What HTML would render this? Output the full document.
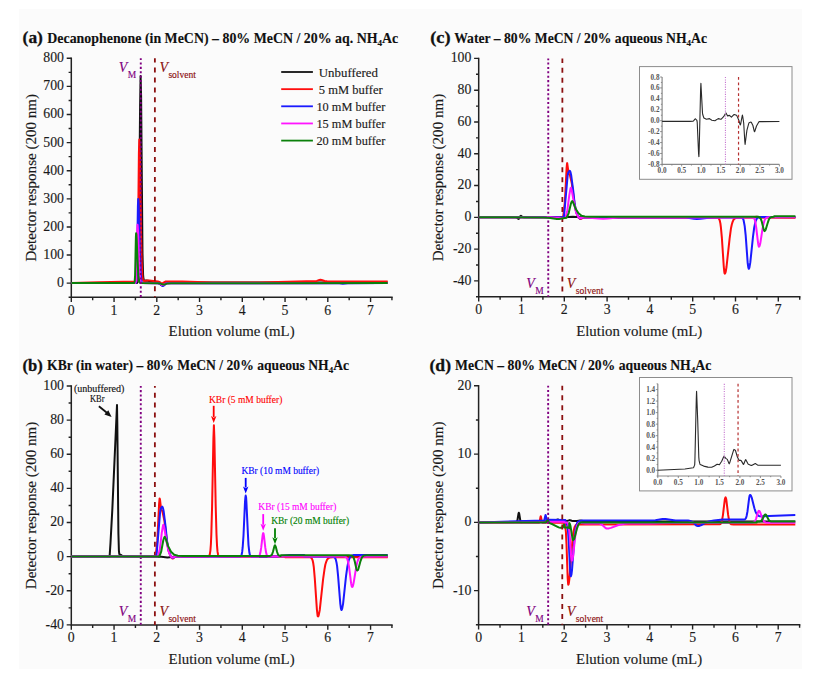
<!DOCTYPE html>
<html><head><meta charset="utf-8"><style>html,body{margin:0;padding:0;background:#fff;}svg{display:block;}</style></head>
<body>
<svg width="813" height="684" viewBox="0 0 813 684" font-family="Liberation Serif, serif" fill="#1a1a1a">
<rect width="813" height="684" fill="#ffffff"/>
<rect x="19" y="9" width="783" height="660" fill="#fbfbfb"/>
<text x="22.6" y="43.199999999999996" font-weight="bold" font-size="17" fill="#111" stroke="#111" stroke-width="0.3" textLength="20.3" lengthAdjust="spacingAndGlyphs">(a)</text>
<text x="47.3" y="42.8" font-weight="bold" font-size="13.7" fill="#111" stroke="#111" stroke-width="0.12" textLength="351" lengthAdjust="spacingAndGlyphs">Decanophenone (in MeCN) – 80% MeCN / 20% aq. NH<tspan font-size="9" dy="3">4</tspan><tspan dy="-3">Ac</tspan></text>
<path d="M71.3 58.3V297.2H391.93" fill="none" stroke="#222" stroke-width="1.5" stroke-linecap="square"/>
<text stroke="#1a1a1a" stroke-width="0.14" x="64" y="287.05" text-anchor="end" font-size="13.8">0</text>
<text stroke="#1a1a1a" stroke-width="0.14" x="64" y="258.94" text-anchor="end" font-size="13.8">100</text>
<text stroke="#1a1a1a" stroke-width="0.14" x="64" y="230.84" text-anchor="end" font-size="13.8">200</text>
<text stroke="#1a1a1a" stroke-width="0.14" x="64" y="202.73" text-anchor="end" font-size="13.8">300</text>
<text stroke="#1a1a1a" stroke-width="0.14" x="64" y="174.62" text-anchor="end" font-size="13.8">400</text>
<text stroke="#1a1a1a" stroke-width="0.14" x="64" y="146.52" text-anchor="end" font-size="13.8">500</text>
<text stroke="#1a1a1a" stroke-width="0.14" x="64" y="118.41" text-anchor="end" font-size="13.8">600</text>
<text stroke="#1a1a1a" stroke-width="0.14" x="64" y="90.31" text-anchor="end" font-size="13.8">700</text>
<text stroke="#1a1a1a" stroke-width="0.14" x="64" y="62.2" text-anchor="end" font-size="13.8">800</text>
<text stroke="#1a1a1a" stroke-width="0.14" x="71.3" y="314.7" text-anchor="middle" font-size="13.8">0</text>
<text stroke="#1a1a1a" stroke-width="0.14" x="114.05" y="314.7" text-anchor="middle" font-size="13.8">1</text>
<text stroke="#1a1a1a" stroke-width="0.14" x="156.8" y="314.7" text-anchor="middle" font-size="13.8">2</text>
<text stroke="#1a1a1a" stroke-width="0.14" x="199.55" y="314.7" text-anchor="middle" font-size="13.8">3</text>
<text stroke="#1a1a1a" stroke-width="0.14" x="242.3" y="314.7" text-anchor="middle" font-size="13.8">4</text>
<text stroke="#1a1a1a" stroke-width="0.14" x="285.05" y="314.7" text-anchor="middle" font-size="13.8">5</text>
<text stroke="#1a1a1a" stroke-width="0.14" x="327.8" y="314.7" text-anchor="middle" font-size="13.8">6</text>
<text stroke="#1a1a1a" stroke-width="0.14" x="370.55" y="314.7" text-anchor="middle" font-size="13.8">7</text>
<path d="M71.3 297.2h-2.7 M71.3 283.15h-4.6 M71.3 269.09h-2.7 M71.3 255.04h-4.6 M71.3 240.99h-2.7 M71.3 226.94h-4.6 M71.3 212.88h-2.7 M71.3 198.83h-4.6 M71.3 184.78h-2.7 M71.3 170.72h-4.6 M71.3 156.67h-2.7 M71.3 142.62h-4.6 M71.3 128.56h-2.7 M71.3 114.51h-4.6 M71.3 100.46h-2.7 M71.3 86.41h-4.6 M71.3 72.35h-2.7 M71.3 58.3h-4.6 M71.3 297.2v4.8 M92.67 297.2v3.0 M114.05 297.2v4.8 M135.43 297.2v3.0 M156.8 297.2v4.8 M178.18 297.2v3.0 M199.55 297.2v4.8 M220.93 297.2v3.0 M242.3 297.2v4.8 M263.68 297.2v3.0 M285.05 297.2v4.8 M306.43 297.2v3.0 M327.8 297.2v4.8 M349.18 297.2v3.0 M370.55 297.2v4.8 M391.93 297.2v3.0" stroke="#222" stroke-width="1.4" fill="none"/>
<text stroke="#1a1a1a" stroke-width="0.14" transform="translate(35.8,177.75) rotate(-90)" text-anchor="middle" font-size="14.5" textLength="167.5" lengthAdjust="spacingAndGlyphs">Detector response (200 nm)</text>
<text stroke="#1a1a1a" stroke-width="0.14" x="231.61" y="336.2" text-anchor="middle" font-size="14.5" textLength="126" lengthAdjust="spacingAndGlyphs">Elution volume (mL)</text>
<polyline points="71.3,283.1 136.2,283.1 137.1,282.9 137.6,282.2 138.0,279.3 138.3,273.0 138.8,249.8 140.1,105.1 140.6,75.9 141.1,96.0 142.5,253.7 143.1,275.0 143.5,279.0 143.7,280.2 144.1,280.8 146.2,280.6 148.0,280.8 154.1,282.4 158.3,283.1 159.5,283.6 161.6,285.2 162.4,285.4 163.2,285.1 165.4,283.6 165.4,283.0 166.5,282.7 168.3,282.6 387.7,282.6" fill="none" stroke="#111111" stroke-width="2.0" stroke-linejoin="round"/>
<polyline points="71.3,283.1 98.7,282.2 135.7,281.6 136.4,281.5 136.7,281.1 137.1,278.6 137.4,274.4 137.8,257.7 138.9,152.9 139.3,139.6 139.5,142.8 139.9,156.2 141.1,235.3 141.7,262.1 142.4,276.8 142.9,279.5 143.2,280.4 143.5,280.7 144.1,280.9 147.1,280.5 149.2,280.5 158.0,281.5 159.3,281.9 161.2,283.2 161.9,283.5 162.7,283.2 165.4,281.5 166.5,281.4 182.4,281.6 212.4,282.4 259.4,282.4 306.4,281.2 314.8,281.2 316.8,280.9 319.4,280.0 320.4,279.8 321.6,280.0 324.6,281.0 327.0,281.3 387.7,281.5" fill="none" stroke="#ff0d0d" stroke-width="2.0" stroke-linejoin="round"/>
<polyline points="71.3,283.1 134.8,283.1 135.9,282.9 136.2,282.0 136.5,280.0 136.9,270.2 137.9,206.5 138.2,198.9 138.5,201.4 138.8,210.1 140.0,254.3 140.6,270.9 141.3,280.3 141.8,282.3 142.5,283.0 158.3,283.2 159.8,283.8 161.9,285.6 162.8,286.0 163.6,285.6 166.1,283.6 167.1,283.3 168.8,283.2 336.9,283.1 339.4,283.2 342.8,283.7 347.8,283.2 387.7,283.1" fill="none" stroke="#1a1aff" stroke-width="2.0" stroke-linejoin="round"/>
<polyline points="71.3,283.1 134.3,283.1 135.3,283.0 135.6,282.4 135.9,280.8 136.2,275.2 137.1,232.4 137.5,224.7 137.7,226.1 138.1,232.0 139.2,263.6 139.8,275.2 140.6,281.5 141.0,282.6 141.7,283.1 158.3,283.2 159.8,283.6 161.9,284.9 162.8,285.1 163.6,284.9 166.1,283.4 168.8,283.2 387.7,283.1" fill="none" stroke="#ff14ff" stroke-width="2.0" stroke-linejoin="round"/>
<polyline points="71.3,283.1 133.5,283.1 134.3,283.0 134.7,281.4 135.1,275.2 135.9,237.3 136.1,233.2 136.4,234.7 136.7,239.8 137.8,266.0 138.4,275.9 139.2,281.5 139.7,282.6 140.5,283.1 158.2,283.2 159.9,283.4 162.5,284.4 163.6,284.6 164.7,284.4 167.8,283.4 171.0,283.2 387.7,283.1" fill="none" stroke="#0a800a" stroke-width="2.0" stroke-linejoin="round"/>
<line x1="140.77" y1="58.3" x2="140.77" y2="297.2" stroke="#800080" stroke-width="1.9" stroke-dasharray="2.1 2.29" stroke-dashoffset="0.3"/>
<line x1="154.88" y1="58.3" x2="154.88" y2="297.2" stroke="#8b1010" stroke-width="1.8" stroke-dasharray="5 4.94" stroke-dashoffset="0.7"/>
<text stroke="#800080" stroke-width="0.14" x="118.77" y="71.6" font-size="14" font-style="italic" fill="#800080">V</text>
<text stroke="#800080" stroke-width="0.14" x="127.77" y="77.6" font-size="9.5" fill="#800080">M</text>
<text stroke="#8b1010" stroke-width="0.14" x="159.38" y="71.6" font-size="14" font-style="italic" fill="#8b1010">V</text>
<text stroke="#8b1010" stroke-width="0.14" x="168.38" y="78.1" font-size="9.5" fill="#8b1010" textLength="27.5" lengthAdjust="spacingAndGlyphs">solvent</text>
<line x1="281.2" y1="72.00" x2="312.9" y2="72.00" stroke="#111111" stroke-width="1.8"/>
<text stroke="#1a1a1a" stroke-width="0.14" x="318.8" y="76.60" font-size="12.6" textLength="59.1" lengthAdjust="spacingAndGlyphs">Unbuffered</text>
<line x1="281.2" y1="89.15" x2="312.9" y2="89.15" stroke="#ff0d0d" stroke-width="1.8"/>
<text stroke="#1a1a1a" stroke-width="0.14" x="318.8" y="93.75" font-size="12.6" textLength="63.9" lengthAdjust="spacingAndGlyphs">5 mM buffer</text>
<line x1="281.2" y1="106.30" x2="312.9" y2="106.30" stroke="#1a1aff" stroke-width="1.8"/>
<text stroke="#1a1a1a" stroke-width="0.14" x="316.4" y="110.90" font-size="12.6" textLength="69" lengthAdjust="spacingAndGlyphs">10 mM buffer</text>
<line x1="281.2" y1="123.45" x2="312.9" y2="123.45" stroke="#ff14ff" stroke-width="1.8"/>
<text stroke="#1a1a1a" stroke-width="0.14" x="316.4" y="128.05" font-size="12.6" textLength="69" lengthAdjust="spacingAndGlyphs">15 mM buffer</text>
<line x1="281.2" y1="140.60" x2="312.9" y2="140.60" stroke="#0a800a" stroke-width="1.8"/>
<text stroke="#1a1a1a" stroke-width="0.14" x="316.4" y="145.20" font-size="12.6" textLength="69" lengthAdjust="spacingAndGlyphs">20 mM buffer</text>
<text x="430.2" y="43.199999999999996" font-weight="bold" font-size="17" fill="#111" stroke="#111" stroke-width="0.3" textLength="20.3" lengthAdjust="spacingAndGlyphs">(c)</text>
<text x="454.2" y="42.8" font-weight="bold" font-size="13.7" fill="#111" stroke="#111" stroke-width="0.12" textLength="252.8" lengthAdjust="spacingAndGlyphs">Water – 80% MeCN / 20% aqueous NH<tspan font-size="9" dy="3">4</tspan><tspan dy="-3">Ac</tspan></text>
<path d="M478.7 58.4V296.8H799.7" fill="none" stroke="#222" stroke-width="1.5" stroke-linecap="square"/>
<text stroke="#1a1a1a" stroke-width="0.14" x="471.4" y="284.81" text-anchor="end" font-size="13.8">-40</text>
<text stroke="#1a1a1a" stroke-width="0.14" x="471.4" y="253.02" text-anchor="end" font-size="13.8">-20</text>
<text stroke="#1a1a1a" stroke-width="0.14" x="471.4" y="221.23" text-anchor="end" font-size="13.8">0</text>
<text stroke="#1a1a1a" stroke-width="0.14" x="471.4" y="189.45" text-anchor="end" font-size="13.8">20</text>
<text stroke="#1a1a1a" stroke-width="0.14" x="471.4" y="157.66" text-anchor="end" font-size="13.8">40</text>
<text stroke="#1a1a1a" stroke-width="0.14" x="471.4" y="125.87" text-anchor="end" font-size="13.8">60</text>
<text stroke="#1a1a1a" stroke-width="0.14" x="471.4" y="94.09" text-anchor="end" font-size="13.8">80</text>
<text stroke="#1a1a1a" stroke-width="0.14" x="471.4" y="62.3" text-anchor="end" font-size="13.8">100</text>
<text stroke="#1a1a1a" stroke-width="0.14" x="478.7" y="314.3" text-anchor="middle" font-size="13.8">0</text>
<text stroke="#1a1a1a" stroke-width="0.14" x="521.5" y="314.3" text-anchor="middle" font-size="13.8">1</text>
<text stroke="#1a1a1a" stroke-width="0.14" x="564.3" y="314.3" text-anchor="middle" font-size="13.8">2</text>
<text stroke="#1a1a1a" stroke-width="0.14" x="607.1" y="314.3" text-anchor="middle" font-size="13.8">3</text>
<text stroke="#1a1a1a" stroke-width="0.14" x="649.9" y="314.3" text-anchor="middle" font-size="13.8">4</text>
<text stroke="#1a1a1a" stroke-width="0.14" x="692.7" y="314.3" text-anchor="middle" font-size="13.8">5</text>
<text stroke="#1a1a1a" stroke-width="0.14" x="735.5" y="314.3" text-anchor="middle" font-size="13.8">6</text>
<text stroke="#1a1a1a" stroke-width="0.14" x="778.3" y="314.3" text-anchor="middle" font-size="13.8">7</text>
<path d="M478.7 296.8h-2.7 M478.7 280.91h-4.6 M478.7 265.01h-2.7 M478.7 249.12h-4.6 M478.7 233.23h-2.7 M478.7 217.33h-4.6 M478.7 201.44h-2.7 M478.7 185.55h-4.6 M478.7 169.65h-2.7 M478.7 153.76h-4.6 M478.7 137.87h-2.7 M478.7 121.97h-4.6 M478.7 106.08h-2.7 M478.7 90.19h-4.6 M478.7 74.29h-2.7 M478.7 58.4h-4.6 M478.7 296.8v4.8 M500.1 296.8v3.0 M521.5 296.8v4.8 M542.9 296.8v3.0 M564.3 296.8v4.8 M585.7 296.8v3.0 M607.1 296.8v4.8 M628.5 296.8v3.0 M649.9 296.8v4.8 M671.3 296.8v3.0 M692.7 296.8v4.8 M714.1 296.8v3.0 M735.5 296.8v4.8 M756.9 296.8v3.0 M778.3 296.8v4.8 M799.7 296.8v3.0" stroke="#222" stroke-width="1.4" fill="none"/>
<text stroke="#1a1a1a" stroke-width="0.14" transform="translate(443.2,177.6) rotate(-90)" text-anchor="middle" font-size="14.5" textLength="167.5" lengthAdjust="spacingAndGlyphs">Detector response (200 nm)</text>
<text stroke="#1a1a1a" stroke-width="0.14" x="639.2" y="336.2" text-anchor="middle" font-size="14.5" textLength="126" lengthAdjust="spacingAndGlyphs">Elution volume (mL)</text>
<line x1="548.25" y1="58.4" x2="548.25" y2="296.8" stroke="#800080" stroke-width="1.9" stroke-dasharray="2.1 2.29" stroke-dashoffset="0.3"/>
<line x1="562.37" y1="58.4" x2="562.37" y2="296.8" stroke="#8b1010" stroke-width="1.8" stroke-dasharray="5 4.94" stroke-dashoffset="0.5"/>
<polyline points="478.7,217.3 515.8,217.3 516.9,217.6 518.1,218.7 518.5,218.9 519.1,218.4 520.4,216.1 520.9,215.8 522.6,217.1 524.1,217.3 563.6,217.3 572.9,216.7 579.5,217.2 584.1,217.3 795.4,217.3" fill="none" stroke="#111111" stroke-width="2.0" stroke-linejoin="round"/>
<polyline points="478.7,217.3 562.7,217.3 563.1,216.5 563.4,214.8 564.8,202.7 566.6,168.2 567.0,163.8 567.2,163.1 568.6,173.1 568.9,174.2 569.7,174.7 570.0,175.5 571.8,183.4 574.4,202.7 576.0,211.4 576.6,213.4 578.3,216.9 579.1,218.1 580.2,219.1 580.6,219.0 581.4,218.4 581.5,218.7 582.7,217.8 583.6,217.7 715.4,217.7 717.4,217.7 718.5,218.1 719.2,219.1 719.8,220.7 720.4,223.5 720.9,227.3 721.9,238.2 723.8,267.0 724.3,271.9 724.5,273.2 724.8,273.6 725.2,273.2 725.7,271.9 726.5,267.0 729.6,238.6 731.0,228.2 731.8,224.5 732.6,221.9 733.5,219.8 734.6,218.6 735.7,218.0 737.2,217.7 751.6,217.6 756.8,216.7 760.8,217.5 762.9,217.6 795.4,217.7" fill="none" stroke="#ff0d0d" stroke-width="2.0" stroke-linejoin="round"/>
<polyline points="478.7,217.3 563.4,217.2 563.9,216.3 564.3,213.2 567.7,175.0 568.3,172.5 569.3,171.1 569.7,170.8 570.1,171.2 570.5,172.1 571.2,175.3 573.2,190.3 574.5,202.6 575.9,210.6 576.6,213.0 578.3,216.8 578.9,217.7 580.2,218.6 580.7,218.5 582.6,217.4 583.5,217.3 680.1,217.4 686.1,217.6 693.9,218.7 696.9,218.9 700.4,218.7 708.9,217.7 714.0,217.4 739.6,217.3 741.1,217.4 742.1,217.7 742.9,218.6 743.6,220.2 744.7,226.1 745.7,235.6 747.7,263.2 748.3,267.4 748.8,268.8 749.1,268.5 749.5,267.2 750.3,262.4 753.0,236.7 754.2,227.5 755.4,221.9 756.0,220.2 757.0,218.2 758.4,217.3 760.5,217.0 795.4,217.0" fill="none" stroke="#1a1aff" stroke-width="2.0" stroke-linejoin="round"/>
<polyline points="478.7,217.3 547.2,217.4 547.3,217.0 556.1,217.8 559.9,217.7 560.0,218.2 565.1,217.7 565.5,217.3 565.8,216.5 567.3,210.7 569.3,195.1 570.4,188.9 570.6,188.0 570.9,187.8 571.3,188.7 571.9,191.1 574.5,205.6 576.2,212.8 576.8,214.3 578.3,217.0 578.9,217.6 579.9,218.1 580.5,218.2 582.3,217.5 583.2,217.4 589.3,217.7 599.1,218.6 603.1,218.8 607.3,218.6 618.3,217.6 626.9,217.4 752.4,217.4 753.5,217.8 754.2,218.5 754.8,219.8 755.3,221.7 756.2,227.4 758.1,243.4 758.6,246.0 759.0,246.7 759.6,245.9 760.3,243.3 762.6,228.4 763.7,223.2 764.7,219.9 765.3,218.9 766.0,218.1 767.2,217.5 769.0,217.3 795.4,217.3" fill="none" stroke="#ff14ff" stroke-width="2.0" stroke-linejoin="round"/>
<polyline points="478.7,217.3 543.2,217.4 548.7,217.7 556.8,218.9 559.1,218.9 561.6,218.5 566.4,217.7 567.0,217.1 568.8,212.8 570.9,203.6 571.7,201.7 572.2,201.1 572.6,201.5 573.3,202.8 575.5,208.5 578.5,213.3 581.6,215.7 584.8,216.5 590.6,216.8 758.1,216.8 759.0,217.0 759.7,217.4 760.8,218.9 761.8,221.7 763.7,229.5 764.2,230.7 764.6,231.1 765.2,230.6 765.8,229.3 767.9,222.3 768.8,219.7 769.7,218.1 770.9,217.2 772.1,216.9 774.0,216.8 774.1,216.3 795.4,216.3" fill="none" stroke="#0a800a" stroke-width="2.0" stroke-linejoin="round"/>
<text stroke="#800080" stroke-width="0.14" x="526.25" y="287.5" font-size="14" font-style="italic" fill="#800080">V</text>
<text stroke="#800080" stroke-width="0.14" x="535.25" y="293.5" font-size="9.5" fill="#800080">M</text>
<text stroke="#8b1010" stroke-width="0.14" x="566.87" y="287.5" font-size="14" font-style="italic" fill="#8b1010">V</text>
<text stroke="#8b1010" stroke-width="0.14" x="575.87" y="294" font-size="9.5" fill="#8b1010" textLength="27.5" lengthAdjust="spacingAndGlyphs">solvent</text>
<text x="22.6" y="370.7" font-weight="bold" font-size="17" fill="#111" stroke="#111" stroke-width="0.3" textLength="20.3" lengthAdjust="spacingAndGlyphs">(b)</text>
<text x="47.1" y="370.3" font-weight="bold" font-size="13.7" fill="#111" stroke="#111" stroke-width="0.12" textLength="302" lengthAdjust="spacingAndGlyphs">KBr (in water) – 80% MeCN / 20% aqueous NH<tspan font-size="9" dy="3">4</tspan><tspan dy="-3">Ac</tspan></text>
<path d="M71.3 386V624.9H391.93" fill="none" stroke="#222" stroke-width="1.5" stroke-linecap="square"/>
<text stroke="#1a1a1a" stroke-width="0.14" x="64" y="628.8" text-anchor="end" font-size="13.8">-40</text>
<text stroke="#1a1a1a" stroke-width="0.14" x="64" y="594.67" text-anchor="end" font-size="13.8">-20</text>
<text stroke="#1a1a1a" stroke-width="0.14" x="64" y="560.54" text-anchor="end" font-size="13.8">0</text>
<text stroke="#1a1a1a" stroke-width="0.14" x="64" y="526.41" text-anchor="end" font-size="13.8">20</text>
<text stroke="#1a1a1a" stroke-width="0.14" x="64" y="492.29" text-anchor="end" font-size="13.8">40</text>
<text stroke="#1a1a1a" stroke-width="0.14" x="64" y="458.16" text-anchor="end" font-size="13.8">60</text>
<text stroke="#1a1a1a" stroke-width="0.14" x="64" y="424.03" text-anchor="end" font-size="13.8">80</text>
<text stroke="#1a1a1a" stroke-width="0.14" x="64" y="389.9" text-anchor="end" font-size="13.8">100</text>
<text stroke="#1a1a1a" stroke-width="0.14" x="71.3" y="642.4" text-anchor="middle" font-size="13.8">0</text>
<text stroke="#1a1a1a" stroke-width="0.14" x="114.05" y="642.4" text-anchor="middle" font-size="13.8">1</text>
<text stroke="#1a1a1a" stroke-width="0.14" x="156.8" y="642.4" text-anchor="middle" font-size="13.8">2</text>
<text stroke="#1a1a1a" stroke-width="0.14" x="199.55" y="642.4" text-anchor="middle" font-size="13.8">3</text>
<text stroke="#1a1a1a" stroke-width="0.14" x="242.3" y="642.4" text-anchor="middle" font-size="13.8">4</text>
<text stroke="#1a1a1a" stroke-width="0.14" x="285.05" y="642.4" text-anchor="middle" font-size="13.8">5</text>
<text stroke="#1a1a1a" stroke-width="0.14" x="327.8" y="642.4" text-anchor="middle" font-size="13.8">6</text>
<text stroke="#1a1a1a" stroke-width="0.14" x="370.55" y="642.4" text-anchor="middle" font-size="13.8">7</text>
<path d="M71.3 624.9h-4.6 M71.3 607.84h-2.7 M71.3 590.77h-4.6 M71.3 573.71h-2.7 M71.3 556.64h-4.6 M71.3 539.58h-2.7 M71.3 522.51h-4.6 M71.3 505.45h-2.7 M71.3 488.39h-4.6 M71.3 471.32h-2.7 M71.3 454.26h-4.6 M71.3 437.19h-2.7 M71.3 420.13h-4.6 M71.3 403.06h-2.7 M71.3 386h-4.6 M71.3 624.9v4.8 M92.67 624.9v3.0 M114.05 624.9v4.8 M135.43 624.9v3.0 M156.8 624.9v4.8 M178.18 624.9v3.0 M199.55 624.9v4.8 M220.93 624.9v3.0 M242.3 624.9v4.8 M263.68 624.9v3.0 M285.05 624.9v4.8 M306.43 624.9v3.0 M327.8 624.9v4.8 M349.18 624.9v3.0 M370.55 624.9v4.8 M391.93 624.9v3.0" stroke="#222" stroke-width="1.4" fill="none"/>
<text stroke="#1a1a1a" stroke-width="0.14" transform="translate(35.8,505.45) rotate(-90)" text-anchor="middle" font-size="14.5" textLength="167.5" lengthAdjust="spacingAndGlyphs">Detector response (200 nm)</text>
<text stroke="#1a1a1a" stroke-width="0.14" x="231.61" y="664" text-anchor="middle" font-size="14.5" textLength="126" lengthAdjust="spacingAndGlyphs">Elution volume (mL)</text>
<line x1="140.77" y1="386" x2="140.77" y2="624.9" stroke="#800080" stroke-width="1.9" stroke-dasharray="2.1 2.29" stroke-dashoffset="0.3"/>
<line x1="154.88" y1="386" x2="154.88" y2="624.9" stroke="#8b1010" stroke-width="1.8" stroke-dasharray="5 4.94" stroke-dashoffset="3.3"/>
<polyline points="71.3,556.6 109.6,556.6 110.5,542.9 112.3,509.9 117.0,405.0 117.3,422.5 118.4,533.1 118.9,550.6 119.2,553.4 119.6,554.7 120.8,554.7 122.8,556.2 124.2,556.6 158.5,556.7 161.4,556.8 167.4,557.5 174.1,556.8 178.7,556.6 387.7,556.6" fill="none" stroke="#111111" stroke-width="2.0" stroke-linejoin="round"/>
<polyline points="71.3,556.6 155.2,556.6 155.6,555.8 155.9,553.9 157.3,540.9 159.1,503.9 159.6,498.4 160.0,499.6 161.1,509.2 161.4,510.3 162.2,510.9 162.5,511.7 164.3,520.2 166.9,540.9 168.4,549.9 169.0,552.2 170.3,555.3 171.0,556.6 171.9,557.9 172.5,558.5 173.0,558.6 175.0,556.9 175.8,556.6 207.0,556.6 208.3,556.5 209.0,556.2 209.5,555.4 209.8,554.4 210.4,550.6 210.9,544.0 211.3,534.6 212.1,506.1 213.4,438.6 213.9,425.2 214.4,438.6 215.7,506.1 216.5,534.6 217.0,545.4 217.5,551.4 218.1,554.7 218.4,555.6 219.0,556.3 219.7,556.6 221.2,556.6 285.1,556.6 285.1,557.2 308.6,557.2 310.1,557.3 311.0,557.6 311.9,558.6 312.6,560.3 313.2,563.0 313.8,567.2 314.8,578.7 316.9,609.6 317.5,615.0 317.7,616.1 318.0,616.5 318.4,616.1 318.8,614.9 319.8,609.7 323.1,579.1 324.6,568.7 325.3,564.8 326.2,561.8 327.1,559.7 328.2,558.3 329.9,557.4 332.7,557.2 387.7,557.2" fill="none" stroke="#ff0d0d" stroke-width="2.0" stroke-linejoin="round"/>
<polyline points="71.3,556.6 155.9,556.5 156.4,555.6 156.8,552.2 160.2,511.2 160.8,508.5 161.8,507.0 162.2,506.6 162.6,507.1 163.0,508.1 163.7,511.5 165.7,527.7 167.0,540.8 168.3,549.0 169.0,551.8 170.7,555.9 171.2,556.9 172.4,557.8 173.0,557.9 174.9,556.8 175.8,556.6 238.1,556.6 240.2,556.5 241.1,555.8 241.7,554.3 242.2,551.7 242.7,547.2 243.5,535.5 245.0,502.1 245.4,497.4 245.7,495.6 246.1,497.4 246.4,502.1 247.9,533.8 248.5,545.1 249.4,552.8 249.9,554.9 250.5,556.0 251.3,556.5 252.5,556.6 276.5,556.6 289.3,554.9 304.2,554.9 304.3,556.6 331.6,556.7 333.3,556.8 334.2,557.1 335.1,557.9 335.8,559.6 336.5,562.4 337.1,566.2 338.1,576.2 340.3,603.6 340.9,608.4 341.4,610.0 341.8,609.8 342.2,608.5 343.1,603.6 346.0,576.3 347.4,566.4 348.7,560.3 349.5,558.3 350.5,556.8 351.7,555.7 353.6,555.0 387.7,554.9" fill="none" stroke="#1a1aff" stroke-width="2.0" stroke-linejoin="round"/>
<polyline points="71.3,556.6 157.6,556.6 158.0,556.2 158.3,555.4 159.8,549.3 161.8,532.7 162.9,526.1 163.1,525.1 163.4,524.9 163.8,525.9 164.4,528.5 167.0,544.0 168.7,551.7 169.3,553.4 170.7,556.2 171.3,556.9 172.4,557.5 172.9,557.5 174.6,556.8 175.4,556.6 256.0,556.6 258.3,556.5 259.0,556.2 259.6,555.4 260.4,552.6 261.2,547.7 262.6,535.7 262.9,533.8 263.2,533.1 263.6,533.8 263.9,535.7 265.3,547.7 266.1,552.6 266.9,555.4 267.5,556.2 268.2,556.5 270.4,556.6 343.1,556.6 344.9,556.7 345.9,557.1 346.6,557.7 347.2,558.7 348.2,562.2 349.2,568.0 351.1,583.2 351.7,586.2 352.2,587.0 352.5,586.8 352.9,586.1 353.6,583.1 356.0,568.3 357.1,562.8 358.2,559.4 359.5,557.6 360.8,556.9 362.7,556.7 387.7,556.6" fill="none" stroke="#ff14ff" stroke-width="2.0" stroke-linejoin="round"/>
<polyline points="71.3,556.6 158.9,556.6 159.3,556.4 159.6,555.8 161.2,551.6 163.3,540.2 164.2,537.5 164.7,536.8 165.1,537.3 165.8,538.9 168.0,545.9 171.0,551.7 174.2,554.7 177.8,555.7 183.0,556.0 270.0,555.9 271.3,555.4 272.1,554.2 272.9,552.0 274.4,546.3 274.7,545.5 275.0,545.2 275.7,546.6 277.1,552.0 277.8,554.0 278.7,555.4 279.9,555.9 280.8,555.9 280.9,555.3 349.0,555.3 351.7,555.5 352.8,556.2 353.7,557.9 354.6,560.8 356.4,568.8 356.9,570.1 357.3,570.5 357.9,570.0 358.5,568.6 360.5,561.1 361.5,558.4 362.4,556.7 363.5,555.7 364.6,555.4 366.2,555.3 387.7,555.3" fill="none" stroke="#0a800a" stroke-width="2.0" stroke-linejoin="round"/>
<text stroke="#800080" stroke-width="0.14" x="118.77" y="615.8" font-size="14" font-style="italic" fill="#800080">V</text>
<text stroke="#800080" stroke-width="0.14" x="127.77" y="621.8" font-size="9.5" fill="#800080">M</text>
<text stroke="#8b1010" stroke-width="0.14" x="159.38" y="615.8" font-size="14" font-style="italic" fill="#8b1010">V</text>
<text stroke="#8b1010" stroke-width="0.14" x="168.38" y="622.3" font-size="9.5" fill="#8b1010" textLength="27.5" lengthAdjust="spacingAndGlyphs">solvent</text>
<text stroke="#ff0000" stroke-width="0.14" x="209" y="403" font-size="11.2" fill="#ff0000" textLength="73.3" lengthAdjust="spacingAndGlyphs">KBr (5 mM buffer)</text>
<line x1="213.7" y1="405.8" x2="213.7" y2="417" stroke="#ff0000" stroke-width="1.8"/>
<path d="M211 416L213.7 423L216.4 416L213.7 417.8Z" fill="#ff0000"/>
<text stroke="#0000ff" stroke-width="0.14" x="241.5" y="473.8" font-size="11.2" fill="#0000ff" textLength="77.7" lengthAdjust="spacingAndGlyphs">KBr (10 mM buffer)</text>
<line x1="245.7" y1="477.9" x2="245.7" y2="487.5" stroke="#0000ff" stroke-width="1.8"/>
<path d="M243 486.5L245.7 493.5L248.4 486.5L245.7 488.3Z" fill="#0000ff"/>
<text stroke="#ff00ff" stroke-width="0.14" x="258.3" y="510.1" font-size="11.2" fill="#ff00ff" textLength="78" lengthAdjust="spacingAndGlyphs">KBr (15 mM buffer)</text>
<line x1="263.2" y1="514.1" x2="263.2" y2="524.8" stroke="#ff00ff" stroke-width="1.8"/>
<path d="M260.5 523.8L263.2 530.8L265.9 523.8L263.2 525.6Z" fill="#ff00ff"/>
<text stroke="#008000" stroke-width="0.14" x="271.2" y="524.2" font-size="11.2" fill="#008000" textLength="78" lengthAdjust="spacingAndGlyphs">KBr (20 mM buffer)</text>
<line x1="275" y1="528.2" x2="275" y2="538.2" stroke="#008000" stroke-width="1.8"/>
<path d="M272.3 537.2L275 544.2L277.7 537.2L275 539Z" fill="#008000"/>
<text stroke="#111" stroke-width="0.14" x="73.9" y="391.6" font-size="10.3" fill="#111" textLength="50.5" lengthAdjust="spacingAndGlyphs">(unbuffered)</text>
<text stroke="#111" stroke-width="0.14" x="97.3" y="401.7" font-size="10" fill="#111" text-anchor="middle" textLength="14.5" lengthAdjust="spacingAndGlyphs">KBr</text>
<line x1="98.9" y1="406.2" x2="108.4" y2="414.0" stroke="#111" stroke-width="1.8"/>
<path d="M104.4 414.6L111.6 417.0L108.3 410.2Z" fill="#111"/>
<text x="429.5" y="370.7" font-weight="bold" font-size="17" fill="#111" stroke="#111" stroke-width="0.3" textLength="21.5" lengthAdjust="spacingAndGlyphs">(d)</text>
<text x="455.0" y="370.3" font-weight="bold" font-size="13.7" fill="#111" stroke="#111" stroke-width="0.12" textLength="256.3" lengthAdjust="spacingAndGlyphs">MeCN – 80% MeCN / 20% aqueous NH<tspan font-size="9" dy="3">4</tspan><tspan dy="-3">Ac</tspan></text>
<path d="M478.6 385.8V624.8H799.6" fill="none" stroke="#222" stroke-width="1.5" stroke-linecap="square"/>
<text stroke="#1a1a1a" stroke-width="0.14" x="471.3" y="594.56" text-anchor="end" font-size="13.8">-10</text>
<text stroke="#1a1a1a" stroke-width="0.14" x="471.3" y="526.27" text-anchor="end" font-size="13.8">0</text>
<text stroke="#1a1a1a" stroke-width="0.14" x="471.3" y="457.99" text-anchor="end" font-size="13.8">10</text>
<text stroke="#1a1a1a" stroke-width="0.14" x="471.3" y="389.7" text-anchor="end" font-size="13.8">20</text>
<text stroke="#1a1a1a" stroke-width="0.14" x="478.6" y="642.3" text-anchor="middle" font-size="13.8">0</text>
<text stroke="#1a1a1a" stroke-width="0.14" x="521.4" y="642.3" text-anchor="middle" font-size="13.8">1</text>
<text stroke="#1a1a1a" stroke-width="0.14" x="564.2" y="642.3" text-anchor="middle" font-size="13.8">2</text>
<text stroke="#1a1a1a" stroke-width="0.14" x="607" y="642.3" text-anchor="middle" font-size="13.8">3</text>
<text stroke="#1a1a1a" stroke-width="0.14" x="649.8" y="642.3" text-anchor="middle" font-size="13.8">4</text>
<text stroke="#1a1a1a" stroke-width="0.14" x="692.6" y="642.3" text-anchor="middle" font-size="13.8">5</text>
<text stroke="#1a1a1a" stroke-width="0.14" x="735.4" y="642.3" text-anchor="middle" font-size="13.8">6</text>
<text stroke="#1a1a1a" stroke-width="0.14" x="778.2" y="642.3" text-anchor="middle" font-size="13.8">7</text>
<path d="M478.6 624.8h-2.7 M478.6 590.66h-4.6 M478.6 556.51h-2.7 M478.6 522.37h-4.6 M478.6 488.23h-2.7 M478.6 454.09h-4.6 M478.6 419.94h-2.7 M478.6 385.8h-4.6 M478.6 624.8v4.8 M500 624.8v3.0 M521.4 624.8v4.8 M542.8 624.8v3.0 M564.2 624.8v4.8 M585.6 624.8v3.0 M607 624.8v4.8 M628.4 624.8v3.0 M649.8 624.8v4.8 M671.2 624.8v3.0 M692.6 624.8v4.8 M714 624.8v3.0 M735.4 624.8v4.8 M756.8 624.8v3.0 M778.2 624.8v4.8 M799.6 624.8v3.0" stroke="#222" stroke-width="1.4" fill="none"/>
<text stroke="#1a1a1a" stroke-width="0.14" transform="translate(443.2,505.3) rotate(-90)" text-anchor="middle" font-size="14.5" textLength="167.5" lengthAdjust="spacingAndGlyphs">Detector response (200 nm)</text>
<text stroke="#1a1a1a" stroke-width="0.14" x="639.1" y="664" text-anchor="middle" font-size="14.5" textLength="126" lengthAdjust="spacingAndGlyphs">Elution volume (mL)</text>
<polyline points="478.6,522.4 516.3,522.1 516.9,521.7 517.4,520.5 518.5,513.6 518.8,512.7 519.2,513.6 520.3,520.5 520.7,521.7 521.4,522.1 521.5,521.6 536.1,521.6 540.7,521.2 545.0,521.5 546.1,521.3 547.9,520.4 550.2,521.5 553.0,521.5 554.7,521.2 556.9,519.8 557.8,519.5 558.6,519.8 559.8,520.6 559.9,520.0 561.1,520.6 562.6,520.9 567.2,520.9 569.8,520.1 571.7,520.8 572.8,520.9 577.1,520.9 580.0,520.6 583.1,520.9 589.8,520.9 589.9,521.6 795.3,521.6" fill="none" stroke="#111111" stroke-width="2.0" stroke-linejoin="round"/>
<polyline points="478.6,522.4 538.8,522.7 539.3,522.5 539.6,521.8 540.5,516.9 540.7,516.2 541.0,516.9 541.8,521.5 542.0,522.3 542.5,522.7 562.9,522.7 564.2,522.9 564.8,523.7 565.2,525.3 565.9,531.9 566.5,544.1 567.7,578.4 568.1,583.7 568.3,584.7 568.6,584.3 568.9,582.9 569.6,577.2 572.0,545.2 573.2,533.7 573.9,529.7 574.6,526.9 575.5,525.4 576.6,524.7 580.1,524.4 719.6,524.3 720.4,524.0 721.0,523.3 721.5,522.2 722.0,520.4 722.9,515.3 724.7,500.3 725.1,498.2 725.6,497.4 726.0,498.2 726.4,500.3 728.1,514.7 729.0,520.0 729.9,523.0 730.4,523.7 731.1,524.2 733.5,524.4 795.3,524.4" fill="none" stroke="#ff0d0d" stroke-width="2.0" stroke-linejoin="round"/>
<polyline points="478.6,522.4 543.6,520.6 544.1,520.4 544.4,519.8 545.5,514.9 545.7,515.3 546.7,520.0 547.1,520.6 547.9,519.8 547.9,521.4 549.2,519.8 565.4,519.9 565.5,522.5 566.3,523.0 566.9,524.2 567.5,526.6 567.9,530.1 568.7,541.0 570.1,570.3 570.5,575.2 570.9,576.3 571.4,574.8 572.0,570.2 574.3,540.3 575.6,528.8 576.3,525.4 577.1,523.0 578.2,521.7 579.8,521.0 581.3,520.6 651.0,520.5 655.4,520.3 662.5,519.1 665.5,518.9 675.5,520.4 688.1,520.6 690.4,520.9 692.5,521.8 696.3,525.5 697.1,525.9 697.8,526.1 699.3,525.9 700.8,525.4 706.0,522.7 708.2,521.8 711.3,520.9 714.0,520.4 722.6,519.6 744.1,519.5 745.0,519.2 745.6,518.6 746.1,517.7 746.6,516.0 747.5,511.2 749.2,497.6 749.6,495.7 749.9,495.1 750.1,495.0 750.5,495.2 750.9,495.7 751.7,497.6 754.4,508.2 755.6,511.9 756.3,513.3 757.2,514.7 757.9,515.4 758.8,515.9 760.2,516.2 762.4,516.3 795.3,515.1" fill="none" stroke="#1a1aff" stroke-width="2.0" stroke-linejoin="round"/>
<polyline points="478.6,522.4 547.1,522.4 547.2,521.7 564.1,521.7 564.2,522.4 567.0,522.6 567.6,523.0 568.1,524.0 569.0,528.2 569.8,536.2 571.1,555.9 571.6,559.6 571.9,560.6 572.2,560.4 572.5,559.4 573.1,556.0 575.3,535.6 576.4,528.3 577.0,525.9 577.7,524.3 578.5,523.3 579.5,522.9 581.1,522.9 585.6,523.4 596.8,523.4 599.6,523.6 601.8,524.5 605.5,527.9 606.2,528.4 607.0,528.5 608.9,528.4 610.9,527.9 617.8,525.3 621.0,524.4 624.3,523.8 628.3,523.5 649.8,523.4 684.0,522.7 752.4,522.7 754.1,522.2 755.2,520.9 756.1,518.6 758.0,512.1 758.5,511.1 758.9,510.8 759.5,511.1 760.1,512.2 762.2,518.1 763.1,520.3 764.2,521.7 765.4,522.4 768.1,522.7 795.3,522.7" fill="none" stroke="#ff14ff" stroke-width="2.0" stroke-linejoin="round"/>
<polyline points="478.6,522.4 538.2,522.4 545.4,522.5 546.3,522.2 547.3,520.6 547.7,520.4 548.0,520.6 549.0,522.5 549.6,523.1 552.6,524.3 558.6,527.4 560.3,527.8 561.6,527.7 562.5,526.9 564.1,524.5 564.2,527.5 568.1,527.5 569.3,528.1 569.3,523.0 569.9,524.1 570.5,526.1 572.4,537.9 572.8,539.7 573.2,540.1 573.8,539.6 574.5,538.0 576.9,528.7 578.2,525.1 578.9,523.8 579.7,523.1 580.6,522.6 581.8,522.4 756.8,522.4 756.9,521.6 759.9,521.4 760.7,521.1 761.4,520.7 762.4,519.3 764.4,515.2 764.9,514.6 765.4,514.4 765.8,514.6 766.3,515.2 768.9,520.2 769.7,521.0 770.7,521.4 772.9,521.5 795.3,521.6" fill="none" stroke="#0a800a" stroke-width="2.0" stroke-linejoin="round"/>
<line x1="548.15" y1="385.8" x2="548.15" y2="624.8" stroke="#800080" stroke-width="1.9" stroke-dasharray="2.1 2.29" stroke-dashoffset="0.3"/>
<line x1="562.27" y1="385.8" x2="562.27" y2="624.8" stroke="#8b1010" stroke-width="1.8" stroke-dasharray="5 4.94" stroke-dashoffset="0.5"/>
<text stroke="#800080" stroke-width="0.14" x="526.15" y="615.8" font-size="14" font-style="italic" fill="#800080">V</text>
<text stroke="#800080" stroke-width="0.14" x="535.15" y="621.8" font-size="9.5" fill="#800080">M</text>
<text stroke="#8b1010" stroke-width="0.14" x="566.77" y="615.8" font-size="14" font-style="italic" fill="#8b1010">V</text>
<text stroke="#8b1010" stroke-width="0.14" x="575.77" y="622.3" font-size="9.5" fill="#8b1010" textLength="27.5" lengthAdjust="spacingAndGlyphs">solvent</text>
<rect x="639.5" y="66.6" width="152.5" height="112.70000000000002" fill="#ffffff" stroke="#8c8c8c" stroke-width="1"/>
<path d="M662.1 77V164.4H779.4" fill="none" stroke="#8a8a8a" stroke-width="1.2"/>
<text x="659.5" y="166.9" text-anchor="end" font-size="7.2" fill="#555" font-weight="bold">-0.8</text>
<text x="659.5" y="155.98" text-anchor="end" font-size="7.2" fill="#555" font-weight="bold">-0.6</text>
<text x="659.5" y="145.05" text-anchor="end" font-size="7.2" fill="#555" font-weight="bold">-0.4</text>
<text x="659.5" y="134.12" text-anchor="end" font-size="7.2" fill="#555" font-weight="bold">-0.2</text>
<text x="659.5" y="123.2" text-anchor="end" font-size="7.2" fill="#555" font-weight="bold">0.0</text>
<text x="659.5" y="112.28" text-anchor="end" font-size="7.2" fill="#555" font-weight="bold">0.2</text>
<text x="659.5" y="101.35" text-anchor="end" font-size="7.2" fill="#555" font-weight="bold">0.4</text>
<text x="659.5" y="90.42" text-anchor="end" font-size="7.2" fill="#555" font-weight="bold">0.6</text>
<text x="659.5" y="79.5" text-anchor="end" font-size="7.2" fill="#555" font-weight="bold">0.8</text>
<text x="662.1" y="173.2" text-anchor="middle" font-size="7.2" fill="#555" font-weight="bold">0.0</text>
<text x="681.65" y="173.2" text-anchor="middle" font-size="7.2" fill="#555" font-weight="bold">0.5</text>
<text x="701.2" y="173.2" text-anchor="middle" font-size="7.2" fill="#555" font-weight="bold">1.0</text>
<text x="720.75" y="173.2" text-anchor="middle" font-size="7.2" fill="#555" font-weight="bold">1.5</text>
<text x="740.3" y="173.2" text-anchor="middle" font-size="7.2" fill="#555" font-weight="bold">2.0</text>
<text x="759.85" y="173.2" text-anchor="middle" font-size="7.2" fill="#555" font-weight="bold">2.5</text>
<text x="779.4" y="173.2" text-anchor="middle" font-size="7.2" fill="#555" font-weight="bold">3.0</text>
<path d="M662.1 164.4h-2.0 M662.1 158.94h-1.2 M662.1 153.48h-2.0 M662.1 148.01h-1.2 M662.1 142.55h-2.0 M662.1 137.09h-1.2 M662.1 131.62h-2.0 M662.1 126.16h-1.2 M662.1 120.7h-2.0 M662.1 115.24h-1.2 M662.1 109.78h-2.0 M662.1 104.31h-1.2 M662.1 98.85h-2.0 M662.1 93.39h-1.2 M662.1 87.92h-2.0 M662.1 82.46h-1.2 M662.1 77h-2.0 M662.1 164.4v2.0 M671.88 164.4v1.2 M681.65 164.4v2.0 M691.43 164.4v1.2 M701.2 164.4v2.0 M710.98 164.4v1.2 M720.75 164.4v2.0 M730.52 164.4v1.2 M740.3 164.4v2.0 M750.08 164.4v1.2 M759.85 164.4v2.0 M769.62 164.4v1.2 M779.4 164.4v2.0" stroke="#777" stroke-width="0.8" fill="none"/>
<polyline points="662.1,121.4 689.8,121.4 693.0,121.2 693.5,120.9 695.2,118.9 695.3,118.8 695.6,119.0 696.9,120.4 697.2,122.1 698.6,153.9 698.9,156.7 699.2,148.9 700.6,90.1 700.9,83.4 702.5,113.0 702.8,114.8 703.9,118.0 706.4,119.3 709.5,118.6 711.8,120.3 714.9,120.7 718.2,118.6 720.7,119.3 721.0,119.3 723.6,116.7 725.8,113.0 726.0,113.1 727.6,115.9 729.5,115.4 731.4,117.2 733.9,114.6 734.3,114.5 736.5,115.3 736.8,115.6 738.6,119.7 740.1,124.5 740.4,124.8 740.7,123.8 742.2,115.8 742.4,115.1 742.7,116.4 743.7,123.0 744.8,141.5 745.1,144.4 746.9,130.4 748.7,123.6 749.1,122.7 751.0,122.1 751.4,122.4 752.9,125.5 754.2,131.0 754.5,131.7 754.8,131.3 756.5,126.0 758.8,122.0 759.2,121.6 779.4,121.5" fill="none" stroke="#2a2a2a" stroke-width="1.1" stroke-linejoin="round"/>
<line x1="725.44" y1="77" x2="725.44" y2="164.4" stroke="#c678d0" stroke-width="1.1" stroke-dasharray="1.1 1.3"/>
<line x1="738.54" y1="77" x2="738.54" y2="164.4" stroke="#b53030" stroke-width="1.2" stroke-dasharray="2.8 2.6"/>
<rect x="639.5" y="377.5" width="152.5" height="113.39999999999998" fill="#ffffff" stroke="#8c8c8c" stroke-width="1"/>
<path d="M657.8 383.8V476H780.95" fill="none" stroke="#8a8a8a" stroke-width="1.2"/>
<text x="655.2" y="472.74" text-anchor="end" font-size="7.2" fill="#555" font-weight="bold">0.0</text>
<text x="655.2" y="461.21" text-anchor="end" font-size="7.2" fill="#555" font-weight="bold">0.2</text>
<text x="655.2" y="449.69" text-anchor="end" font-size="7.2" fill="#555" font-weight="bold">0.4</text>
<text x="655.2" y="438.16" text-anchor="end" font-size="7.2" fill="#555" font-weight="bold">0.6</text>
<text x="655.2" y="426.64" text-anchor="end" font-size="7.2" fill="#555" font-weight="bold">0.8</text>
<text x="655.2" y="415.11" text-anchor="end" font-size="7.2" fill="#555" font-weight="bold">1.0</text>
<text x="655.2" y="403.59" text-anchor="end" font-size="7.2" fill="#555" font-weight="bold">1.2</text>
<text x="655.2" y="392.06" text-anchor="end" font-size="7.2" fill="#555" font-weight="bold">1.4</text>
<text x="657.8" y="484.8" text-anchor="middle" font-size="7.2" fill="#555" font-weight="bold">0.0</text>
<text x="678.32" y="484.8" text-anchor="middle" font-size="7.2" fill="#555" font-weight="bold">0.5</text>
<text x="698.85" y="484.8" text-anchor="middle" font-size="7.2" fill="#555" font-weight="bold">1.0</text>
<text x="719.38" y="484.8" text-anchor="middle" font-size="7.2" fill="#555" font-weight="bold">1.5</text>
<text x="739.9" y="484.8" text-anchor="middle" font-size="7.2" fill="#555" font-weight="bold">2.0</text>
<text x="760.42" y="484.8" text-anchor="middle" font-size="7.2" fill="#555" font-weight="bold">2.5</text>
<text x="780.95" y="484.8" text-anchor="middle" font-size="7.2" fill="#555" font-weight="bold">3.0</text>
<path d="M657.8 476h-1.2 M657.8 470.24h-2.0 M657.8 464.48h-1.2 M657.8 458.71h-2.0 M657.8 452.95h-1.2 M657.8 447.19h-2.0 M657.8 441.43h-1.2 M657.8 435.66h-2.0 M657.8 429.9h-1.2 M657.8 424.14h-2.0 M657.8 418.38h-1.2 M657.8 412.61h-2.0 M657.8 406.85h-1.2 M657.8 401.09h-2.0 M657.8 395.32h-1.2 M657.8 389.56h-2.0 M657.8 383.8h-1.2 M657.8 476v2.0 M668.06 476v1.2 M678.32 476v2.0 M688.59 476v1.2 M698.85 476v2.0 M709.11 476v1.2 M719.38 476v2.0 M729.64 476v1.2 M739.9 476v2.0 M750.16 476v1.2 M760.42 476v2.0 M770.69 476v1.2 M780.95 476v2.0" stroke="#777" stroke-width="0.8" fill="none"/>
<polyline points="657.8,470.2 684.9,469.0 693.2,467.8 693.4,467.7 693.7,467.3 694.5,465.4 694.7,464.6 694.9,460.5 696.3,398.4 696.5,392.8 696.6,391.4 697.7,420.1 698.8,457.1 699.1,460.6 699.9,463.9 700.2,464.5 703.7,466.1 707.9,467.1 711.7,467.3 714.4,466.0 717.1,464.2 717.4,464.2 719.4,464.7 721.7,461.3 723.8,456.5 724.1,456.1 725.8,458.4 727.3,459.4 729.0,463.5 729.2,463.8 729.6,463.1 733.6,450.1 734.0,449.4 735.2,450.2 735.5,450.6 737.4,457.1 738.9,460.1 739.3,460.4 740.9,460.4 741.2,460.6 743.4,464.4 743.8,464.0 745.5,459.8 745.7,459.6 748.1,464.1 748.4,464.3 751.2,465.4 751.6,465.4 755.3,463.5 757.7,465.1 758.1,465.2 780.9,465.3" fill="none" stroke="#2a2a2a" stroke-width="1.1" stroke-linejoin="round"/>
<line x1="724.3" y1="383.8" x2="724.3" y2="476" stroke="#c678d0" stroke-width="1.1" stroke-dasharray="1.1 1.3"/>
<line x1="738.05" y1="383.8" x2="738.05" y2="476" stroke="#b53030" stroke-width="1.2" stroke-dasharray="2.8 2.6"/>
</svg>
</body></html>
